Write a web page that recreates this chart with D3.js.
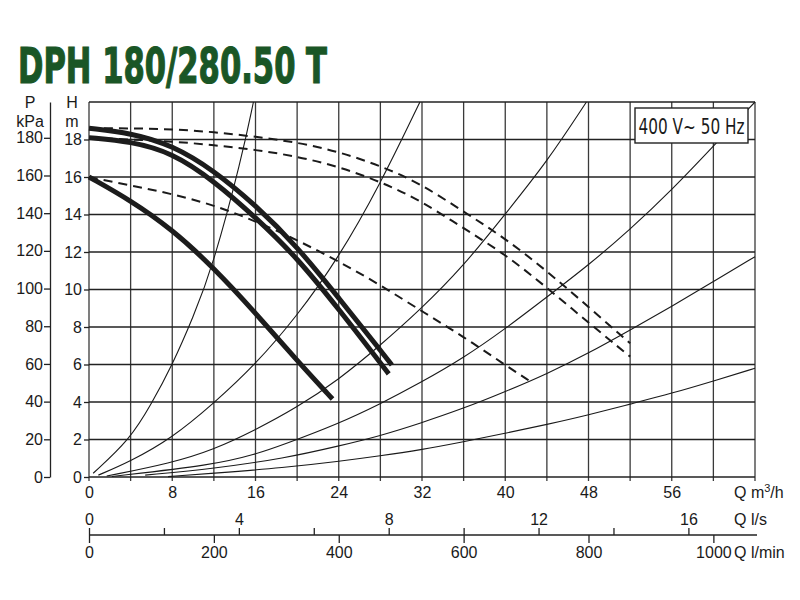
<!DOCTYPE html>
<html>
<head>
<meta charset="utf-8">
<script src="https://cdn.jsdelivr.net/npm/d3@7"></script>
<style>
  body { margin: 0; background: #fff; }
  svg { display: block; font-family: 'Liberation Sans', Arial, sans-serif; }
  .axis text { font-size: 16px; fill: #1a1a1a; }
  .axis line, .axis path { stroke: #222; stroke-width: 1.3; }
</style>
</head>
<body>
<svg id="chart" width="800" height="600"></svg>
<script>
// axis values
const qGrid = [0, 4, 8, 12, 16, 20, 24, 28, 32, 36, 40, 44, 48, 52, 56, 60, 64];
const qLabels = [0, 8, 16, 24, 32, 40, 48, 56];
const hGrid = [0, 2, 4, 6, 8, 10, 12, 14, 16, 18, 20];
const hLabels = [0, 2, 4, 6, 8, 10, 12, 14, 16, 18];
const pLabels = [0, 20, 40, 60, 80, 100, 120, 140, 160, 180];
const lsTicks = [0, 2, 4, 6, 8, 10, 12, 14, 16];
const lsLabels = [0, 4, 8, 12, 16];
const lminLabels = [0, 200, 400, 600, 800, 1000];

// pump curves, [Q m3/h, H m]
const pumpMax = [[0, 18.6], [4, 18.35], [8, 17.7], [12, 16.35], [16, 14.5], [20, 12.3], [24, 9.55], [28, 6.76], [29.1, 5.97]];
const pumpMid = [[0, 18.1], [4, 17.9], [8, 17.3], [12, 15.8], [16, 13.85], [20, 11.7], [24, 8.95], [28, 6.08], [28.8, 5.5]];
const pumpMin = [[0, 16.0], [4, 14.75], [8, 13.2], [12, 11.15], [16, 8.75], [20, 6.2], [23.4, 4.16]];

// dashed curves
const dashMax = [[0, 18.6], [4, 18.6], [8, 18.55], [12, 18.4], [16, 18.15], [20, 17.85], [24, 17.35], [28, 16.6], [31.8, 15.67], [36, 14.15], [40, 12.73], [44, 10.99], [48, 9.07], [52, 7.13]];
const dashMid = [[0, 18.1], [4, 18.0], [8, 17.9], [12, 17.7], [16, 17.45], [20, 17.1], [24, 16.55], [28, 15.75], [31.8, 14.77], [36, 13.26], [40, 11.88], [44, 10.1], [48, 8.23], [52, 6.42]];
const dashMin = [[0, 16.0], [4, 15.55], [8, 15.1], [12, 14.5], [16, 13.65], [20, 12.64], [24, 11.5], [28, 10.24], [32.3, 8.73], [36, 7.48], [40, 5.97], [42.4, 5.1]];

// system curves (thin)
const sys1 = [[0.4, 0.2], [3.94, 2.0], [6, 3.9], [7.94, 5.9], [10, 8.5], [11.94, 11.3], [14.67, 17.0], [15.8, 20]];
const sys2 = [[0.9, 0.1], [3.94, 0.82], [7.94, 2.06], [11.94, 3.9], [15.95, 5.97], [19.95, 8.55], [23.95, 11.66], [27.95, 15.57], [31.8, 20]];
const sys3 = [[1.7, 0.05], [7.94, 0.75], [11.94, 1.45], [15.95, 2.5], [19.95, 3.7], [23.95, 5.17], [27.95, 7.0], [31.8, 8.9], [36, 11.25], [40, 14.03], [44, 16.8], [47.8, 20]];
const sys4 = [[2.2, 0.03], [11.94, 0.64], [15.95, 1.2], [18.8, 1.75], [24, 2.85], [28, 3.9], [31.8, 5.01], [36, 6.35], [40, 7.9], [44, 9.6], [48, 11.3], [52, 13.2], [56, 15.3], [60.1, 17.7], [64, 20]];
const sys5 = [[5.4, 0.1], [12, 0.45], [18.8, 1.0], [24, 1.65], [28, 2.2], [31.8, 2.86], [36, 3.66], [40, 4.55], [44, 5.5], [48, 6.6], [52, 7.84], [56, 9.1], [60, 10.42], [64, 11.75]];
const sys6 = [[7.6, 0.02], [12, 0.2], [18.8, 0.5], [24, 0.83], [28, 1.13], [31.8, 1.44], [36, 1.88], [40, 2.33], [44, 2.8], [48, 3.31], [52, 3.89], [56, 4.46], [60, 5.12], [64, 5.8]];

const title = 'DPH 180/280.50 T';
const legendText = '400 V~ 50 Hz';

const svg = d3.select('#chart');

const plotLeft = 89, plotRight = 755, plotTop = 102, plotBottom = 477;

const x = d3.scaleLinear().domain([0, 64]).range([plotLeft, plotRight]);
const y = d3.scaleLinear().domain([0, 20]).range([plotBottom, plotTop]);
const p = d3.scaleLinear().domain([0, 199]).range([plotBottom, plotTop]);
const ls = d3.scaleLinear().domain([0, 64 / 3.6]).range([plotLeft, plotRight]);
const lmin = d3.scaleLinear().domain([0, 64 * 1000 / 60]).range([plotLeft, plotRight]);

// title
svg.append('text')
  .attr('x', 18)
  .attr('y', 83)
  .attr('textLength', 309)
  .attr('lengthAdjust', 'spacingAndGlyphs')
  .style('font-family', "'Liberation Sans Narrow', 'DejaVu Sans Condensed', sans-serif")
  .style('font-weight', 'bold')
  .style('font-size', '49px')
  .style('fill', '#1a5626')
  .style('stroke', '#1a5626')
  .style('stroke-width', 1.2)
  .text(title);

// grid
svg.append('g')
  .selectAll('line')
  .data(qGrid)
  .enter()
  .append('line')
  .attr('x1', d => x(d)).attr('x2', d => x(d))
  .attr('y1', y(20)).attr('y2', y(0) + 4)
  .style('stroke', '#3a3a3a')
  .style('stroke-width', 1.3);
svg.append('g')
  .selectAll('line')
  .data(hGrid)
  .enter()
  .append('line')
  .attr('x1', x(0)).attr('x2', x(64))
  .attr('y1', d => y(d)).attr('y2', d => y(d))
  .style('stroke', '#222')
  .style('stroke-width', 1.3);

// H axis
const hAxis = d3.axisLeft(y).tickValues(hLabels).tickSize(5).tickPadding(2).tickSizeOuter(0);
svg.append('g')
  .attr('class', 'axis')
  .attr('transform', `translate(${plotLeft}, 0)`)
  .call(hAxis)
  .call(g => g.select('.domain').remove());

// P axis
const pAxis = d3.axisLeft(p).tickValues(pLabels).tickSize(6).tickPadding(1).tickSizeOuter(0);
svg.append('g')
  .attr('class', 'axis')
  .attr('transform', 'translate(50, 0)')
  .call(pAxis);

// axis titles
const axisTitles = [
  { t: 'P', x: 30, y: 108 },
  { t: 'kPa', x: 30, y: 127 },
  { t: 'H', x: 72, y: 108 },
  { t: 'm', x: 72, y: 127 },
];
svg.append('g')
  .selectAll('text')
  .data(axisTitles)
  .enter()
  .append('text')
  .attr('x', d => d.x)
  .attr('y', d => d.y)
  .attr('text-anchor', 'middle')
  .style('font-size', '16px')
  .style('fill', '#1a1a1a')
  .text(d => d.t);

// Q m3/h axis labels
const qAxis = d3.axisBottom(x).tickValues(qLabels).tickSize(0).tickPadding(10);
svg.append('g')
  .attr('class', 'axis')
  .attr('transform', `translate(0, ${plotBottom})`)
  .call(qAxis)
  .call(g => g.select('.domain').remove());

// l/s axis
const lsAxis = d3.axisTop(ls)
  .tickValues(lsTicks)
  .tickSize(7)
  .tickPadding(3)
  .tickSizeOuter(0)
  .tickFormat(d => (lsLabels.includes(d) ? d : ''));
svg.append('g')
  .attr('class', 'axis')
  .attr('transform', 'translate(0, 535)')
  .call(lsAxis)
  .call(g => g.select('.domain').attr('d', `M${plotLeft},0H${plotRight + 2}`));

// l/min axis
const lminAxis = d3.axisBottom(lmin)
  .tickValues(lminLabels)
  .tickSize(8)
  .tickPadding(4)
  .tickFormat(d3.format('d'));
svg.append('g')
  .attr('class', 'axis')
  .attr('transform', 'translate(0, 535)')
  .call(lminAxis)
  .call(g => g.select('.domain').remove());

// unit labels
const unitLabels = [
  { y: 498, html: 'Q m<tspan dy="-6" font-size="11px">3</tspan><tspan dy="6">/h</tspan>' },
  { y: 525, html: 'Q l/s' },
  { y: 558, html: 'Q l/min' },
];
svg.append('g')
  .selectAll('text')
  .data(unitLabels)
  .enter()
  .append('text')
  .attr('x', 734)
  .attr('y', d => d.y)
  .style('font-size', '16px')
  .style('fill', '#1a1a1a')
  .html(d => d.html);

const line = d3.line()
  .x(d => x(d[0]))
  .y(d => y(d[1]))
  .curve(d3.curveBasis);

// system curves
svg.append('g')
  .selectAll('path')
  .data([sys1, sys2, sys3, sys4, sys5, sys6])
  .enter()
  .append('path')
  .attr('d', line)
  .style('fill', 'none')
  .style('stroke', '#1a1a1a')
  .style('stroke-width', 1.1);

// dashed curves
svg.append('g')
  .selectAll('path')
  .data([dashMax, dashMid, dashMin])
  .enter()
  .append('path')
  .attr('d', line)
  .style('fill', 'none')
  .style('stroke', '#1a1a1a')
  .style('stroke-width', 2)
  .style('stroke-dasharray', '9,6');

// pump curves
svg.append('g')
  .selectAll('path')
  .data([pumpMax, pumpMid, pumpMin])
  .enter()
  .append('path')
  .attr('d', line)
  .style('fill', 'none')
  .style('stroke', '#1c1c1c')
  .style('stroke-width', 5);

// legend box
const legend = svg.append('g').attr('transform', 'translate(635, 108)');
legend.append('rect')
  .attr('width', 113)
  .attr('height', 35)
  .style('fill', '#fff')
  .style('stroke', '#222')
  .style('stroke-width', 1.4);
legend.append('text')
  .attr('x', 56.5)
  .attr('y', 26)
  .attr('text-anchor', 'middle')
  .attr('textLength', 106)
  .attr('lengthAdjust', 'spacingAndGlyphs')
  .style('font-family', "'Liberation Sans Narrow', 'DejaVu Sans Condensed', sans-serif")
  .style('font-size', '22px')
  .style('fill', '#1a1a1a')
  .text(legendText);
</script>
</body>
</html>
